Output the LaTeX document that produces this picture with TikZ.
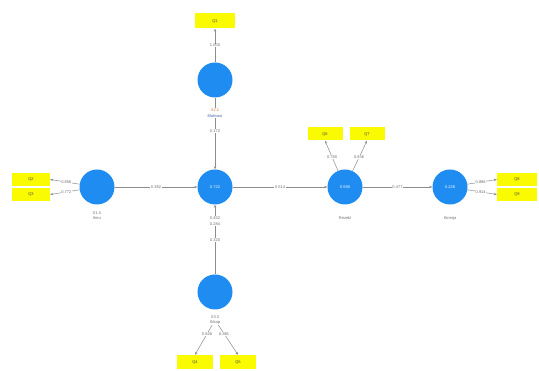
\documentclass[tikz,border=0pt]{standalone}
\usepackage{fontspec}
\setmainfont{Liberation Sans}
\usetikzlibrary{arrows.meta}
\definecolor{lvblue}{RGB}{30,140,240}
\definecolor{boxyel}{RGB}{250,250,0}
\definecolor{lin}{RGB}{140,140,140}
\definecolor{txt}{RGB}{110,110,110}
\definecolor{orlab}{RGB}{200,120,60}
\definecolor{bllab}{RGB}{70,100,170}
\begin{document}
\begin{tikzpicture}[x=1pt,y=-1pt,
  lv/.style={circle,fill=lvblue,minimum size=35pt,inner sep=0pt,text=white,font=\fontsize{4}{5}\selectfont},
  ind/.style={rectangle,fill=boxyel,minimum width=38pt,minimum height=13pt,inner sep=0pt,font=\fontsize{4}{5}\selectfont,text=black!70},
  conn/.style={draw=lin,line width=0.5pt,-{Stealth[length=3pt,width=2.5pt]}},
  coef/.style={fill=white,inner sep=0.5pt,font=\fontsize{4}{5}\selectfont,text=txt},
  lab/.style={fill=white,inner sep=0.5pt,font=\fontsize{4}{5}\selectfont,text=txt,align=center}]
\useasboundingbox (0,0) rectangle (539,371);
\fill[white] (0,0) rectangle (539,371);
% latent variables
\node[lv] (t) at (215,80) {};
\node[lv] (c) at (215,187) {0.722};
\node[lv] (l) at (97,187) {};
\node[lv] (b) at (215,292) {};
\node[lv] (m) at (345,187) {0.590};
\node[lv] (r) at (450,187) {0.228};
% indicators
\node[ind,minimum width=40pt,minimum height=15pt] (q1) at (215,21) {Q1};
\node[ind] (q2) at (31,179.5) {Q2};
\node[ind] (q3) at (31,194.5) {Q3};
\node[ind,minimum width=36pt,minimum height=14pt] (q4) at (195,362) {Q4};
\node[ind,minimum width=36pt,minimum height=14pt] (q5) at (238,362) {Q5};
\node[ind,minimum width=35pt] (q6) at (325,134) {Q6};
\node[ind,minimum width=35pt] (q7) at (367,134) {Q7};
\node[ind,minimum width=40pt] (q8) at (517,179.5) {Q8};
\node[ind,minimum width=40pt] (q9) at (517,194.5) {Q9};
% structural paths (drawn first, labels sit on top)
\draw[conn] (t) -- (c);
\draw[conn] (l) -- node[coef] {0.382} (c);
\draw[conn] (b) -- (c);
\draw[conn] (c) -- node[coef] {0.514} (m);
\draw[conn] (m) -- node[coef] {0.477} (r);
% labels under latent variables
\node[lab] (tl) at (215,113) {\textcolor{orlab}{X2.1}\\[0.5pt]\textcolor{bllab}{Motivasi}};
\node[coef] (pt) at (215,131) {0.172};
\node[lab] (ll) at (97,216) {X1.X\\Ilmu};
\node[lab] (cl) at (215,221) {0.452\\[1pt]0.284};
\node[coef] (pb) at (215,240) {0.320};
\node[lab] (bl) at (215,320) {X3.3\\Sikap};
\node[lab] (ml) at (345,218) {Rezeki};
\node[lab] (rl) at (450,218) {Kinerja};
% outer loadings
\draw[conn] (t) -- node[coef,pos=0.5] {1.000} (q1);
\draw[conn] (l) -- node[coef,pos=0.45] {0.856} (q2.east);
\draw[conn] (l) -- node[coef,pos=0.45] {0.772} (q3.east);
\draw[conn] (bl) -- node[coef,pos=0.3] {0.848} (q4.north);
\draw[conn] (bl) -- node[coef,pos=0.3] {0.861} (q5.north);
\draw[conn] (m) -- node[coef,pos=0.45] {0.780} (q6.south);
\draw[conn] (m) -- node[coef,pos=0.45] {0.836} (q7.south);
\draw[conn] (r) -- node[coef,pos=0.45] {0.886} (q8.west);
\draw[conn] (r) -- node[coef,pos=0.45] {0.914} (q9.west);
\end{tikzpicture}
\end{document}
